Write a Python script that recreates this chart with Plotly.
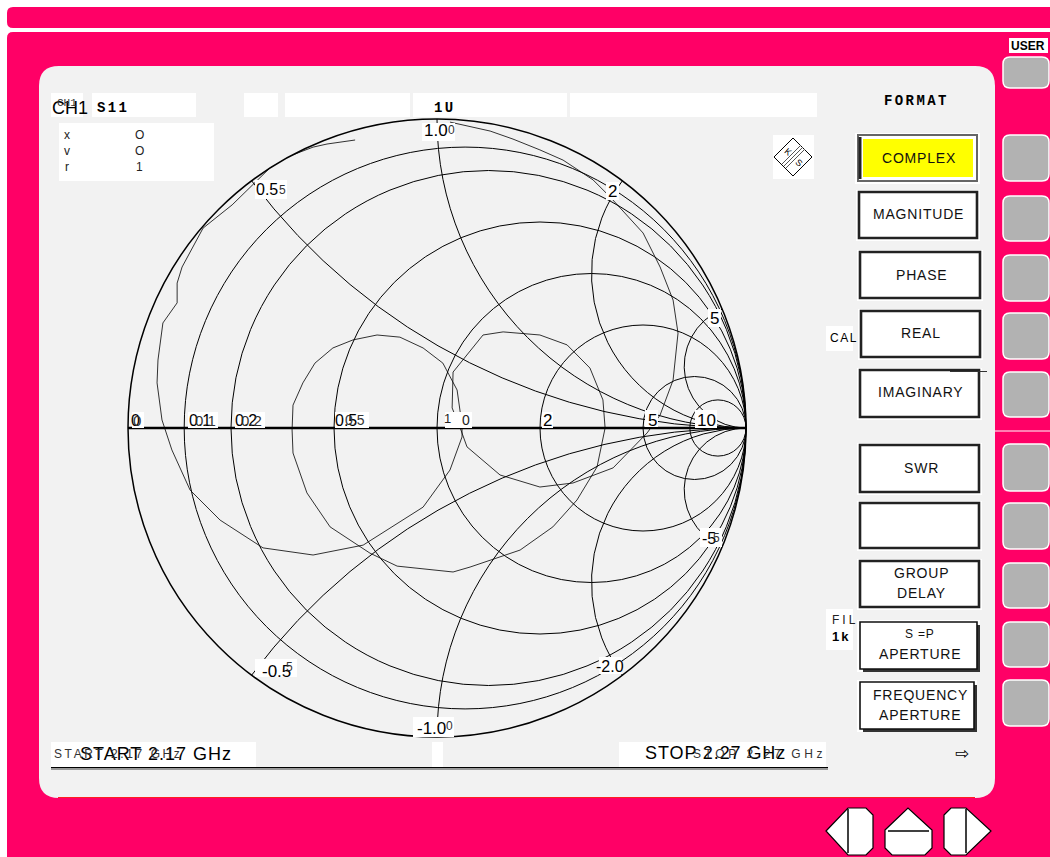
import numpy as np
import plotly.graph_objects as go

W, H = 1050, 857

# ---- DATA ----
# S11 reflection coefficient
s11_re = [-.265,-.356,-.401,-.485,-.531,-.663,-.757,-.825,-.841,-.841,-.887,-.903,-.906,-.890,-.858,-.799,-.702,-.563,-.401,-.239,-.045,.042,.081,.081,.065,.019,-.045,-.120,-.194,-.272,-.337,-.395,-.434,-.466,-.469,-.466,-.421,-.346,-.217,-.129,.052,.107,.269,.375,.453,.518,.544,.537,.495,.421,.333,.214,.149,.052,.049,.074,.097,.204,.333,.440,.570,.680,.722,.764,.780,.764,.722,.667,.560,.505,.408,.333,.246,.172,.042]
s11_im = [.932,.919,.909,.877,.851,.722,.647,.521,.469,.405,.340,.220,.146,.026,-.071,-.201,-.298,-.388,-.411,-.379,-.256,-.136,-.029,.010,.123,.210,.259,.294,.301,.285,.259,.210,.146,.074,-.006,-.081,-.210,-.320,-.405,-.447,-.466,-.450,-.395,-.320,-.233,-.126,0.0,.091,.194,.269,.301,.311,.301,.181,.065,.003,-.061,-.152,-.191,-.178,-.129,-.016,.042,.155,.307,.414,.521,.631,.748,.803,.867,.900,.935,.961,.990]

r_grid = [0.1, 0.2, 0.5, 1, 2, 5, 10]
x_grid = [-5, -2, -1, -0.5, 0.5, 1, 2, 5]

format_buttons = ["COMPLEX", "MAGNITUDE", "PHASE", "REAL", "IMAGINARY", "SWR", "", "GROUP<br>DELAY", "S =P<br>APERTURE", "FREQUENCY<br>APERTURE"]
start_label = "START 2.17 GHz"
stop_label = "STOP 2.27 GHz"

PINK = "#FF0066"
PANEL = "#F2F2F2"
KEY = "#B2B2B2"
SANS = "Liberation Sans"
MONO = "Liberation Mono"

gamma = np.array(s11_re) + 1j * np.array(s11_im)
z = (1 + gamma) / (1 - gamma)

fig = go.Figure(go.Scattersmith(real=z.real, imag=z.imag, mode="lines",
                                line=dict(color="black", width=0.8), showlegend=False))

shapes, notes = [], []
fx = lambda x: x / W
fy = lambda y: 1 - y / H

def poly(pts, fill=None, line=None, lw=1, layer="below"):
    d = "M " + " L ".join(f"{fx(x):.5f} {fy(y):.5f}" for x, y in pts) + " Z"
    shapes.append(dict(type="path", xref="paper", yref="paper", path=d, layer=layer,
                       fillcolor=fill or "rgba(0,0,0,0)", line=dict(color=line or "rgba(0,0,0,0)", width=lw if line else 0)))

def rect(x0, y0, x1, y1, fill=None, line=None, lw=1, layer="below"):
    shapes.append(dict(type="rect", xref="paper", yref="paper", x0=fx(x0), x1=fx(x1), y0=fy(y0), y1=fy(y1), layer=layer,
                       fillcolor=fill or "rgba(0,0,0,0)", line=dict(color=line or "rgba(0,0,0,0)", width=lw if line else 0)))

def seg(x0, y0, x1, y1, color="black", lw=1, layer="below"):
    shapes.append(dict(type="line", xref="paper", yref="paper", x0=fx(x0), x1=fx(x1), y0=fy(y0), y1=fy(y1), layer=layer,
                       line=dict(color=color, width=lw)))

def rrect(x0, y0, x1, y1, r, fill, line=None, lw=1, layer="below"):
    d = (f"M {fx(x0+r):.5f} {fy(y0):.5f} L {fx(x1-r):.5f} {fy(y0):.5f} "
         f"Q {fx(x1):.5f} {fy(y0):.5f} {fx(x1):.5f} {fy(y0+r):.5f} L {fx(x1):.5f} {fy(y1-r):.5f} "
         f"Q {fx(x1):.5f} {fy(y1):.5f} {fx(x1-r):.5f} {fy(y1):.5f} L {fx(x0+r):.5f} {fy(y1):.5f} "
         f"Q {fx(x0):.5f} {fy(y1):.5f} {fx(x0):.5f} {fy(y1-r):.5f} L {fx(x0):.5f} {fy(y0+r):.5f} "
         f"Q {fx(x0):.5f} {fy(y0):.5f} {fx(x0+r):.5f} {fy(y0):.5f} Z")
    shapes.append(dict(type="path", xref="paper", yref="paper", path=d, layer=layer, fillcolor=fill,
                       line=dict(color=line or "rgba(0,0,0,0)", width=lw if line else 0)))

def txt(x, y, s, size=14, font=SANS, color="black", bold=False, spacing=0, anchor="center", angle=0):
    if bold:
        s = f"<b>{s}</b>"
    if spacing:
        s = f'<span style="letter-spacing:{spacing}px">{s}</span>'
    notes.append(dict(x=fx(x), y=fy(y), xref="paper", yref="paper", text=s, showarrow=False, textangle=angle,
                      xanchor=anchor, yanchor="middle", borderpad=0, borderwidth=0,
                      font=dict(family=font, size=size, color=color)))

# frame
rrect(7, 7, 1070, 28, 6, PINK)
rrect(7, 32, 1070, 870, 6, PINK)
seg(995, 431, 1050, 431, "white", 1)
rrect(39, 66, 995, 798, 20, PANEL)
seg(58, 797.5, 975, 797.5, "#FF2020", 1)

# header boxes
for b in [(51,93,83,117),(92,93,196,117),(244,93,278,117),(285,93,410,117),(413,93,567,117),(570,93,817,117),
          (59,123,214,181),(773,135,814,179),(51,742,256,767),(432,742,443,767),(619,742,826,767),
          (826,326,853,351),(826,609,853,650),(1009,38,1048,53)]:
    rect(*b, fill="white")

# bottom rule
seg(51, 767.5, 828, 767.5, "black", 1)
seg(51, 769, 828, 769, "#999999", 2)

# logo
poly([(793,138),(812,157),(793,176),(774,157)], fill="white", line="black", lw=1)
for off in (-2, 0, 2):
    seg(784+off, 166+off, 803+off, 147+off, "#555555", 1)

# format buttons
btn = [(858,135,977,181),(859,192,977,238),(860,252,980,298),(861,311,980,357),(860,370,979,417),
       (860,445,979,492),(860,503,979,548),(860,561,979,607),(860,622,977,669),(860,682,974,729)]
text_xy = [(919,158),(918,214),(922,275),(921,333),(921,392),(921,468),(921,525),(921,583),(920,644),(920,705)]
for i, (b, label, (tx, ty)) in enumerate(zip(btn, format_buttons, text_xy)):
    rect(b[0]-3, b[1]-2, b[2]+3, b[3]+3, fill="white")
    if i >= 8:
        rect(b[0]+3, b[1]+3, b[2]+3, b[3]+3, fill="#333333")
    if i == 0:
        rect(*b, fill="white", line="#666666", lw=2)
        rect(863, 139, 973, 177, fill="#FFFF00")
        seg(860, 137, 860, 179, "#222222", 3)
    elif i >= 8:
        rect(*b, fill="white", line="#111111", lw=1.6)
    else:
        rect(*b, fill="white", line="#222222", lw=2.6)
    for k, part in enumerate(label.split("<br>")):
        n = len(label.split("<br>"))
        yy = ty + (k - (n - 1) / 2) * 20
        txt(tx, yy, part, size=14 if part != "S =P" else 12, spacing=0.8, color="#111111")

# side keys
keys = [(57,88),(135,181),(196,241),(255,301),(313,359),(372,417),(444,491),(503,549),(563,608),(622,667),(680,726)]
for y0, y1 in keys:
    rrect(1003, y0, 1049, y1, 7, KEY, line="white", lw=1.5)

seg(950, 371.5, 987, 371.5, "#333333", 1, layer="above")

# nav buttons
poly([(826,831),(848,808),(866,808),(873,815),(873,848),(866,855),(848,855)], fill="white", line="black", lw=1.2)
seg(848, 809, 848, 853, "black", 1.5)
poly([(885,830),(908,808),(932,830),(932,848),(925,855),(892,855),(885,848)], fill="white", line="black", lw=1.2)
seg(888, 831, 929, 831, "black", 1.5)
poly([(944,815),(951,808),(966,808),(991,831),(966,855),(951,855),(944,848)], fill="white", line="black", lw=1.2)
seg(966, 809, 966, 853, "black", 1.5)

# chart label boxes
for b in [(132,412,144,428),(188,412,218,428),(235,412,265,428),(335,412,369,428),(445,412,472,428),
          (542,412,553,428),(645,410,658,427),(695,410,717,428),(422,123,455,141),(255,180,287,199),
          (606,182,619,200),(708,309,721,327),(700,528,722,547),(599,657,622,674),(255,659,297,677),(413,717,454,737)]:
    rect(*b, fill="white", layer="above")

# texts
txt(52, 108, "CH1", 18, anchor="left")
txt(57, 103, "CH1", 11, MONO, color="#333333", anchor="left")
txt(97, 108, "S11", 14, MONO, bold=True, spacing=2.3, anchor="left")
txt(434, 108, "1U", 14, MONO, bold=True, spacing=2.3, anchor="left")
txt(916, 101, "FORMAT", 14, MONO, bold=True, spacing=2.4)
for yy, a, b in [(135,"x","O"),(151,"v","O"),(167,"r","1")]:
    txt(67, yy, a, 12, color="#222222")
    txt(139, yy, b, 12, color="#222222")
txt(788, 152, "K", 9, angle=40)
txt(799, 163, "S", 9, angle=40)

txt(131, 420, "0", 16, anchor="left")
txt(133, 420, "0", 15, color="#333333", anchor="left")
txt(189, 420, "0.1", 16, anchor="left")
txt(195, 420, "0.1", 15, color="#333333", anchor="left")
txt(235, 420, "0.2", 16, anchor="left")
txt(241, 420, "0.2", 15, color="#333333", anchor="left")
txt(335, 420, "0.5", 16, anchor="left")
txt(345, 420, "0.5", 14, color="#333333", anchor="left")
txt(447, 418, "1", 13, color="#222222", anchor="center")
txt(466, 420, "0", 14, color="#222222")
txt(547, 420, "2", 17)
txt(652, 420, "5", 17)
txt(706, 420, "10", 17)
txt(436, 131, "1.0", 17)
txt(451, 130, "0", 12, color="#333333")
txt(267, 190, "0.5", 16)
txt(282, 190, "5", 12, color="#333333")
txt(612, 191, "2", 17)
txt(714, 318, "5", 17)
txt(709, 538, "-5", 16)
txt(716, 538, "5", 12, color="#333333")
txt(610, 666, "-2.0", 16)
txt(276, 671, "-0.5", 17)
txt(289, 667, "5", 12, color="#333333")
txt(431, 728, "-1.0", 17)
txt(449, 726, "0", 12, color="#333333")

txt(80, 754, start_label, 18, spacing=1, anchor="left")
txt(54, 754, start_label, 12, color="#333333", spacing=2.6, anchor="left")
txt(645, 753, stop_label, 18, spacing=0.9, anchor="left")
txt(693, 754, stop_label, 12, color="#333333", spacing=3.6, anchor="left")

txt(844, 338, "CAL", 12, spacing=1.5)
txt(845, 620, "FIL", 12, spacing=3, color="#222222")
txt(841, 636, "1k", 13, bold=True, spacing=2)
txt(1028, 46, "USER", 12, bold=True)
txt(962, 753, "⇨", 17, "DejaVu Sans")

fig.update_layout(
    width=W, height=H, autosize=False, margin=dict(l=0, r=0, t=0, b=0, pad=0),
    paper_bgcolor="white", showlegend=False, shapes=shapes, annotations=notes,
    smith=dict(
        domain=dict(x=[128 / W, 746 / W], y=[1 - 737 / H, 1 - 119 / H]),
        bgcolor="rgba(0,0,0,0)",
        realaxis=dict(tickvals=r_grid, showgrid=True, gridcolor="black", gridwidth=1.1, griddash="solid",
                      showticklabels=False, showline=True, linecolor="black", linewidth=2.5, ticks=""),
        imaginaryaxis=dict(tickvals=x_grid, showgrid=True, gridcolor="black", gridwidth=1.1, griddash="solid",
                           showticklabels=False, showline=True, linecolor="black", linewidth=1.5, ticks=""),
    ),
)

fig.write_html("out.html", config=dict(displayModeBar=False),
               post_script="document.body.style.margin='0';document.documentElement.style.overflow='hidden';")
